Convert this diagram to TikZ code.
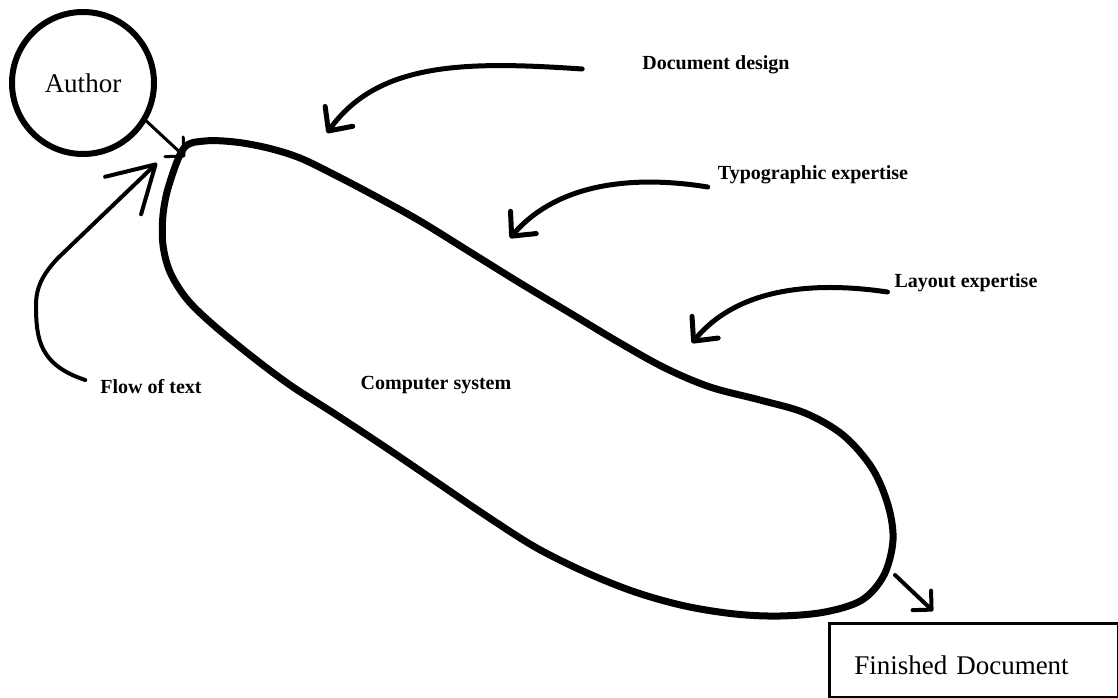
\documentclass[tikz,border=0pt]{standalone}
\usepackage{fontspec}
\setmainfont{Liberation Serif}
\usetikzlibrary{arrows.meta}

\begin{document}
\begin{tikzpicture}[x=1pt, y=-1pt,
  lbl/.style={font=\bfseries\fontsize{20}{24}\selectfont, inner sep=0pt},
  bigtext/.style={font=\fontsize{27}{32}\selectfont, inner sep=0pt},
  pointer/.style={line width=5pt, line cap=round, -{Straight Barb[length=18pt, width=34pt, round]}},
  feed/.style={line cap=round, -{Straight Barb[angle=90:19pt, round]}}]
  \useasboundingbox (0,0) rectangle (1118,698);

  % Author circle
  \node[circle, draw, line width=6pt, minimum size=142pt, bigtext] (author) at (83,83) {Author};

  % Computer system outline
  \draw[line width=7pt, line join=round]
    plot[smooth cycle, tension=0.55] coordinates {
      (184,148) (205,141) (235,142) (268,148) (300,158) (335,175) (375,196)
      (420,221) (470,252) (520,283) (570,313) (620,343) (665,368) (710,387)
      (760,400) (805,413) (843,435) (872,468) (888,505) (893,540) (884,575)
      (862,600) (825,612) (780,616) (735,614) (685,606) (635,592) (585,572)
      (535,547) (485,515) (435,481) (385,447) (335,414) (290,385) (250,355)
      (210,322) (186,298) (170,272) (163,245) (163,215) (169,185)};
  \node[lbl] (compsys) at (436,385) {Computer system};

  % Labels
  \node[lbl] (docdesign) at (716,65) {Document design};
  \node[lbl] (typo) at (813,175) {Typographic expertise};
  \node[lbl] (layout) at (966,283) {Layout expertise};
  \node[lbl] (flow) at (151,387) {Flow of text};

  % Finished document box
  \node[draw, line width=2.5pt, anchor=north west, minimum width=289pt, minimum height=74pt,
        inner xsep=25pt, text width=239pt, text height=29pt, text depth=0pt, align=left,
        bigtext] (finished) at (828,622) {Finished Document};

  % Arrow ends on the outline
  \coordinate (authortip) at (185,157);
  \coordinate (flowtip) at (157,163);
  \coordinate (outstart) at (895,575);
  \coordinate (outtip) at (933,611);

  % Author into the system
  \draw[feed, line width=3pt] (author.-31) -- (authortip);

  % Flow of text
  \draw[line width=4pt, line cap=round, -{Straight Barb[length=45pt, width=52pt, round]}]
    ([xshift=-15pt, yshift=7pt]flow.west) .. controls (40,365) and (36,340) .. (36,305)
    .. controls (36,285) and (45,272) .. (58,258) -- (flowtip);

  % Expertise pointers
  \draw[pointer] ([xshift=-60pt, yshift=-4pt]docdesign.west) .. controls (465,61) and (378,62) .. (327,133);
  \draw[pointer] ([xshift=-10pt, yshift=-12pt]typo.west) .. controls (640,176) and (560,180) .. (510,238);
  \draw[pointer] ([xshift=-7pt, yshift=-9pt]layout.west) .. controls (820,282) and (740,285) .. (692,343);

  % Out to the finished document
  \draw[feed, line width=4pt] (outstart) -- (outtip);
\end{tikzpicture}
\end{document}
